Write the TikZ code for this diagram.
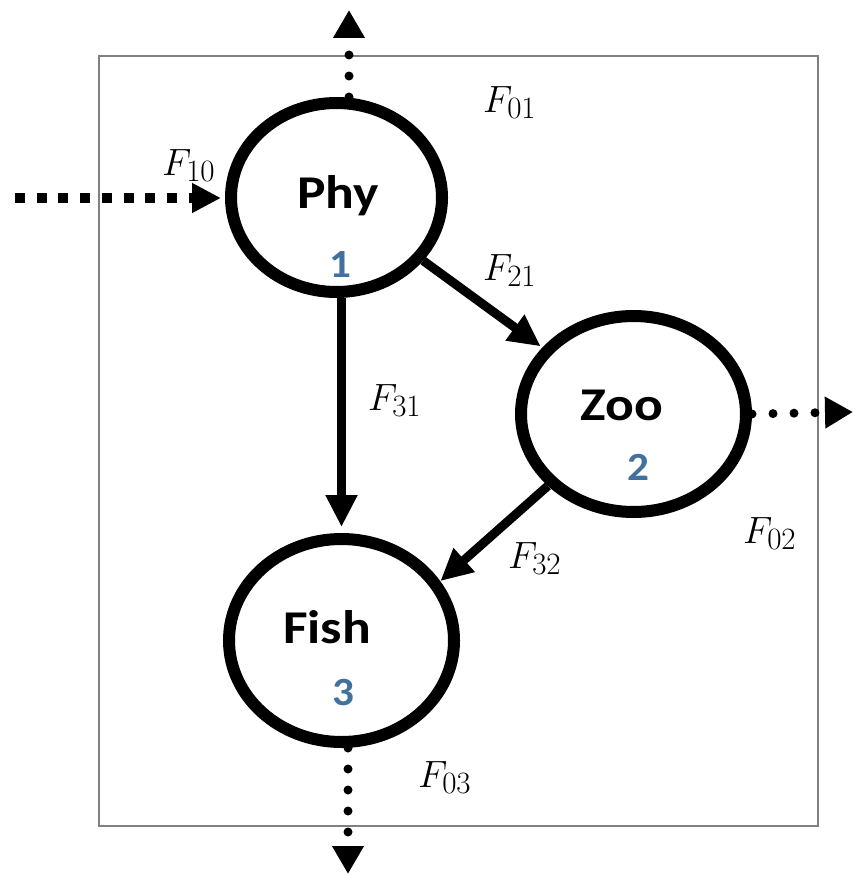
\documentclass[tikz,border=0pt]{standalone}
\usepackage{fix-cm}
\usepackage{fontspec}
\newfontfamily\carlito{Carlito}
\DeclareMathSizes{38}{38}{31}{22}
\usetikzlibrary{arrows.meta,shapes.geometric}
\definecolor{numblue}{RGB}{65,113,156}
\definecolor{boxgray}{RGB}{128,128,128}
\begin{document}
\begin{tikzpicture}[x=1pt,y=-1pt,
  pool/.style={ellipse, draw, line width=12pt, inner sep=0pt},
  poolname/.style={font=\carlito\bfseries\fontsize{47}{50}\selectfont, xscale=1.14, anchor=base, inner sep=0pt},
  poolnum/.style={font=\carlito\bfseries\fontsize{40}{44}\selectfont, xscale=1.08, text=numblue, anchor=base, inner sep=0pt},
  flab/.style={font=\fontsize{38}{42}\selectfont, anchor=base west, inner sep=0pt},
  flow/.style={line width=9pt, -{Triangle[length=32pt,width=30pt]}, shorten >=2pt},
  outflow/.style={line width=9pt, line cap=round, dash pattern=on 0pt off 21pt, -{Triangle[length=28pt,width=30pt]}},
  inflow/.style={line width=10pt, dash pattern=on 10pt off 11.7pt, -{Triangle[length=29pt,width=28pt]}, shorten >=4pt}]
\useasboundingbox (0,0) rectangle (853,875);
\node[draw=boxgray, line width=2.5pt, minimum width=719pt, minimum height=770pt, inner sep=0pt] (frame) at (458.5,441) {};
\node[pool, minimum width=211pt, minimum height=189pt] (phy) at (336.5,197.5) {};
\node[pool, minimum width=225pt, minimum height=196pt] (zoo) at (633.5,414) {};
\node[pool, minimum width=225pt, minimum height=203pt] (fish) at (341.5,640.5) {};
\node[poolname] (tphy) at (338,208) {Phy};
\node[poolname] (tzoo) at (622,420) {Zoo};
\node[poolname] (tfish) at (327,643) {Fish};
\node[poolnum] (nphy) at (340,277) {1};
\node[poolnum] (nzoo) at (638,480) {2};
\node[poolnum] (nfish) at (343,705) {3};
\coordinate (in10) at (15,198);
\coordinate (out01) at (349,10);
\coordinate (out02) at (853,412);
\coordinate (out03) at (348,874);
\draw[inflow] (in10) -- (in10 -| phy.west);
\draw[outflow] (out01 |- phy.north) -- (out01);
\draw[outflow] (zoo.east) -- (out02);
\draw[outflow] (out03 |- fish.south) -- (out03);
\draw[flow] (phy) -- (zoo);
\draw[flow, shorten >=6pt] (phy.south -| fish.north) -- (fish.north);
\draw[flow, shorten >=0pt] (zoo.220) -- (fish.31);
\node[flab] (f10) at (162,175) {$F_{10}$};
\node[flab] (f01) at (483,112) {$F_{01}$};
\node[flab] (f21) at (483,280) {$F_{21}$};
\node[flab] (f31) at (368,410) {$F_{31}$};
\node[flab] (f02) at (743,543) {$F_{02}$};
\node[flab] (f32) at (508,568) {$F_{32}$};
\node[flab] (f03) at (418,787) {$F_{03}$};
\end{tikzpicture}
\end{document}
